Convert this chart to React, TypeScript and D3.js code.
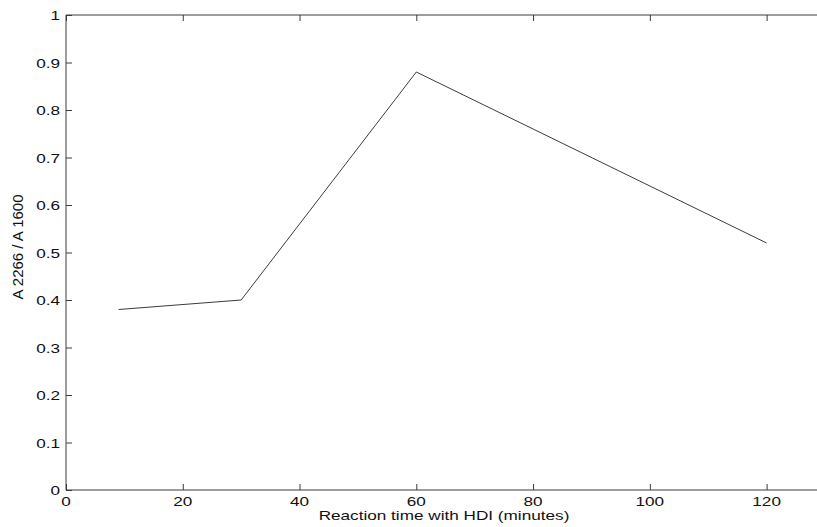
import React, { useEffect, useRef } from 'react';
import * as d3 from 'd3';

// reaction time (minutes) vs absorbance ratio
const times = [9, 30, 60, 120];
const ratios = [0.38, 0.4, 0.88, 0.52];
const xTicks = [0, 20, 40, 60, 80, 100, 120];
const yTicks = [0, 0.1, 0.2, 0.3, 0.4, 0.5, 0.6, 0.7, 0.8, 0.9, 1];

const W = 817;
const H = 527;
const margin = { top: 15, right: -8, bottom: 37, left: 66 };

export default function App() {
  const ref = useRef<SVGSVGElement | null>(null);

  useEffect(() => {
    if (ref.current === null) return;
    const svg = d3.select(ref.current);
    svg.selectAll('*').remove();

    const x = d3.scaleLinear().domain([0, 130]).range([margin.left, W - margin.right]);
    const y = d3.scaleLinear().domain([0, 1]).range([H - margin.bottom, margin.top]);
    const font = 'Liberation Sans, Arial, sans-serif';
    const axisColor = '#3a3a3a';
    const stretch = 1.32; // the scan is wider than tall

    // frame: left, top, bottom (right edge falls just off the picture)
    svg
      .append('path')
      .attr('d', `M${x(130)},${y(1)}H${x(0)}V${y(0)}H${x(130)}`)
      .attr('fill', 'none')
      .attr('stroke', axisColor)
      .attr('stroke-width', 1);

    const bottom = svg
      .append('g')
      .attr('transform', 'translate(0,' + y(0) + ')')
      .call(d3.axisBottom(x).tickValues(xTicks).tickSizeInner(-6).tickSizeOuter(0).tickFormat(() => ''));
    const top = svg
      .append('g')
      .attr('transform', 'translate(0,' + y(1) + ')')
      .call(d3.axisTop(x).tickValues(xTicks).tickSizeInner(-6).tickSizeOuter(0).tickFormat(() => ''));
    const left = svg
      .append('g')
      .attr('transform', 'translate(' + x(0) + ',0)')
      .call(d3.axisLeft(y).tickValues(yTicks).tickSizeInner(-6).tickSizeOuter(0).tickFormat(() => ''));
    const right = svg
      .append('g')
      .attr('transform', 'translate(' + x(130) + ',0)')
      .call(d3.axisRight(y).tickValues(yTicks).tickSizeInner(-6).tickSizeOuter(0).tickFormat(() => ''));

    [bottom, top, left, right].forEach(g => {
      g.select('.domain').remove();
      g.selectAll('line').attr('stroke', axisColor);
    });

    const label = (px: number, py: number, txt: string, anchor: string) =>
      svg
        .append('g')
        .attr('transform', `translate(${px},${py}) scale(${stretch},1)`)
        .append('text')
        .attr('text-anchor', anchor)
        .attr('font-family', font)
        .attr('font-size', 13)
        .attr('fill', '#111')
        .text(txt);

    xTicks.forEach(t => label(x(t), 506, String(t), 'middle'));
    yTicks.forEach(t => label(x(0) - 6, y(t) + 5, d3.format('~g')(t), 'end'));

    const line = d3
      .line<number>()
      .x((d, i) => x(times[i]))
      .y(d => y(d));

    svg
      .append('path')
      .datum(ratios)
      .attr('d', line)
      .attr('fill', 'none')
      .attr('stroke', '#3c3c3c')
      .attr('stroke-width', 1);

    label(444, 520, 'Reaction time with HDI (minutes)', 'middle');

    svg
      .append('text')
      .attr('transform', 'translate(23,' + 247 + ') rotate(-90)')
      .attr('text-anchor', 'middle')
      .attr('font-family', font)
      .attr('font-size', 15)
      .attr('fill', '#111')
      .text('A 2266 / A 1600');
  }, []);

  return (
    <svg
      ref={ref}
      width={W}
      height={H}
      style={{ position: 'absolute', left: 0, top: 0, background: '#fff' }}
    />
  );
}
